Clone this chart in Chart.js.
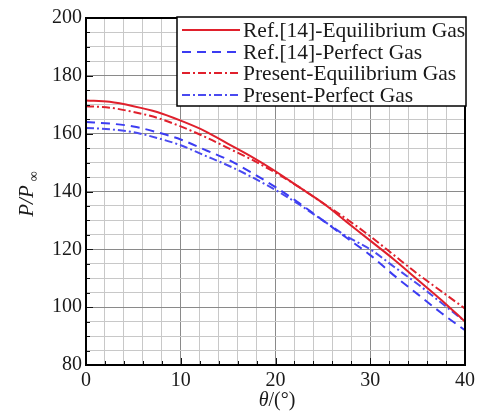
<!DOCTYPE html>
<html>
<head>
<meta charset="utf-8">
<script src="https://cdn.jsdelivr.net/npm/chart.js@4.4.1/dist/chart.umd.min.js"></script>
<style>
html,body{margin:0;padding:0;background:#fff;}
#wrap{width:479px;height:416px;position:relative;}
</style>
</head>
<body>
<div id="wrap"><canvas id="c" width="479" height="416"></canvas></div>
<script>
const theta = [0, 2.5, 5, 7.5, 10, 12.5, 15, 17.5, 20, 22.5, 25, 27.5, 30, 32.5, 35, 37.5, 40];
const refEquilibrium = [171.5, 171, 169.5, 167.5, 164.5, 161, 156.5, 152, 147, 141.5, 136, 129.5, 123, 116.5, 109.5, 102.5, 95];
const refPerfect = [164, 163.5, 162.5, 160.5, 158, 154.5, 151, 146.5, 141.5, 136, 130, 124, 118, 111, 104.5, 98, 92];
const presentEquilibrium = [169.5, 169, 167.5, 165.5, 162.5, 159, 155, 151, 146.5, 141.5, 136, 130.5, 124.5, 118, 111.5, 105.5, 99.5];
const presentPerfect = [162, 161.5, 160.5, 158.5, 156, 152.5, 149, 145, 140.5, 135.5, 130, 124.5, 120, 114, 108, 101.5, 95];
const seriesNames = ["Ref.[14]-Equilibrium Gas", "Ref.[14]-Perfect Gas", "Present-Equilibrium Gas", "Present-Perfect Gas"];
const xTickLabels = [0, 10, 20, 30, 40];
const yTickLabels = [80, 100, 120, 140, 160, 180, 200];

const FONT = "'Liberation Serif', 'Times New Roman', serif";
const RED = '#e0202c';
const BLUE = '#3c3cf2';
const BLUE2 = '#4a4af0';

function pts(ys){ return theta.map((t,i)=>({x:t,y:ys[i]})); }

const datasets = [
  {label: seriesNames[0], data: pts(refEquilibrium), borderColor: RED, borderWidth: 2, borderDash: []},
  {label: seriesNames[1], data: pts(refPerfect), borderColor: BLUE, borderWidth: 2, borderDash: [9,6]},
  {label: seriesNames[2], data: pts(presentEquilibrium), borderColor: RED, borderWidth: 2, borderDash: [8,3,2,3]},
  {label: seriesNames[3], data: pts(presentPerfect), borderColor: BLUE2, borderWidth: 2, borderDash: [8,3,2,3]}
].map(d => Object.assign(d, {pointRadius: 0, fill: false, tension: 0.4, cubicInterpolationMode: 'monotone'}));

const overlay = {
  id: 'overlay',
  afterDraw(chart){
    const ctx = chart.ctx, a = chart.chartArea;
    const xs = chart.scales.x, ys = chart.scales.y;
    ctx.save();
    // inward tick marks
    ctx.strokeStyle = '#111'; ctx.lineWidth = 1;
    for (let v = 0; v <= 40; v += 2) {
      const px = Math.round(xs.getPixelForValue(v)) + 0.5;
      const len = (v % 10 === 0) ? 7 : 4;
      ctx.beginPath(); ctx.moveTo(px, a.bottom); ctx.lineTo(px, a.bottom - len); ctx.stroke();
    }
    for (let v = 80; v <= 200; v += 5) {
      const py = Math.round(ys.getPixelForValue(v)) + 0.5;
      const len = (v % 20 === 0) ? 7 : 4;
      ctx.beginPath(); ctx.moveTo(a.left, py); ctx.lineTo(a.left + len, py); ctx.stroke();
    }
    // frame
    ctx.strokeStyle = '#000'; ctx.lineWidth = 2;
    ctx.strokeRect(a.left, a.top, a.right - a.left, a.bottom - a.top);
    // legend box
    const lx = 177, ly = 17, lw = 466 - 177, lh = 89;
    ctx.fillStyle = '#fff'; ctx.fillRect(lx, ly, lw, lh);
    ctx.strokeStyle = '#000'; ctx.lineWidth = 1.5; ctx.strokeRect(lx, ly, lw, lh);
    const rows = [30, 52, 73, 95];
    chart.data.datasets.forEach((d, i) => {
      const y = rows[i];
      ctx.strokeStyle = d.borderColor; ctx.lineWidth = 2;
      ctx.setLineDash(d.borderDash || []);
      ctx.beginPath(); ctx.moveTo(182, y); ctx.lineTo(240, y); ctx.stroke();
      ctx.setLineDash([]);
      ctx.fillStyle = '#1a1a1a'; ctx.font = '21.5px ' + FONT;
      ctx.textAlign = 'left'; ctx.textBaseline = 'middle';
      ctx.fillText(d.label, 243, y + 1);
    });
    // y axis title P/P∞
    ctx.save();
    ctx.translate(27, 192);
    ctx.rotate(-Math.PI / 2);
    ctx.fillStyle = '#1a1a1a'; ctx.textBaseline = 'middle'; ctx.textAlign = 'left';
    ctx.font = 'italic 21px ' + FONT;
    const t1 = 'P/P';
    const w1 = ctx.measureText(t1).width;
    ctx.font = '14px ' + FONT;
    const w2 = ctx.measureText('\u221E').width;
    const start = -(w1 + w2) / 2 - 4;
    ctx.font = 'italic 21px ' + FONT;
    ctx.fillText(t1, start, 0);
    ctx.font = '14px ' + FONT;
    ctx.fillText('\u221E', start + w1 + 4, 7);
    ctx.restore();
    // x axis title θ/(°)
    ctx.fillStyle = '#1a1a1a'; ctx.textBaseline = 'middle'; ctx.textAlign = 'left';
    ctx.font = 'italic 20px ' + FONT;
    const a1 = '\u03B8';
    const aw = ctx.measureText(a1).width;
    ctx.font = '20px ' + FONT;
    const b1 = '/(\u00B0)';
    const bw = ctx.measureText(b1).width;
    const sx = 277 - (aw + bw) / 2;
    ctx.font = 'italic 20px ' + FONT;
    ctx.fillText(a1, sx, 401);
    ctx.font = '20px ' + FONT;
    ctx.fillText(b1, sx + aw, 401);
    ctx.restore();
  }
};

new Chart(document.getElementById('c'), {
  type: 'line',
  data: { datasets },
  options: {
    responsive: false,
    animation: false,
    events: [],
    layout: { padding: { left: 0, right: 13, top: 18, bottom: 0 } },
    plugins: { legend: { display: false }, tooltip: { enabled: false } },
    scales: {
      x: {
        type: 'linear', min: 0, max: 40,
        afterFit(s){ s.height = 51; },
        border: { display: false },
        grid: {
          drawTicks: false,
          color: c => (c.tick && c.tick.value % 10 === 0) ? '#8a8a8a' : '#c8c8c8',
          lineWidth: 1
        },
        ticks: {
          stepSize: 2, autoSkip: false, maxRotation: 0, padding: 4,
          color: '#1a1a1a', font: { family: FONT, size: 20 },
          callback: v => xTickLabels.includes(v) ? String(v) : ''
        }
      },
      y: {
        type: 'linear', min: 80, max: 200,
        afterFit(s){ s.width = 86; },
        border: { display: false },
        grid: {
          drawTicks: false,
          color: c => (c.tick && c.tick.value % 20 === 0) ? '#8a8a8a' : '#c8c8c8',
          lineWidth: 1
        },
        ticks: {
          stepSize: 5, autoSkip: false, padding: 4,
          color: '#1a1a1a', font: { family: FONT, size: 20 },
          callback: v => yTickLabels.includes(v) ? String(v) : ''
        }
      }
    }
  },
  plugins: [overlay]
});
</script>
</body>
</html>
